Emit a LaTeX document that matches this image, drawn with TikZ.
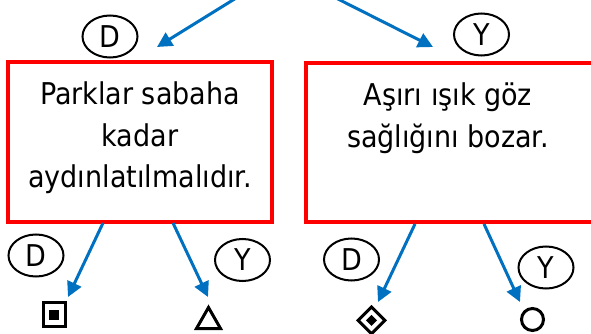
\documentclass[tikz,border=0pt]{standalone}
\usepackage{fontspec}
\setmainfont{DejaVu Sans Condensed}
\usetikzlibrary{arrows.meta,shapes.geometric}
\definecolor{arrowblue}{RGB}{0,112,192}
\definecolor{boxred}{RGB}{255,0,0}
\tikzset{
  redbox/.style={draw=boxred, line width=4pt, rectangle, inner sep=0pt},
  boxtext/.style={anchor=north, inner sep=0pt, align=center, font=\fontsize{30}{41.5}\selectfont},
  oval/.style={inner sep=0pt, font=\fontsize{30}{36}\selectfont},
  ovalline/.style={draw=black, line width=2pt},
  bluearrow/.style={draw=arrowblue, line width=3pt, -{Triangle[length=15pt,width=15pt]}},
  sym/.style={draw=black, line width=3pt, line join=miter},
}
\begin{document}
\begin{tikzpicture}[x=1pt,y=-1pt]
\useasboundingbox (0,0) rectangle (591,334);
% boxes
\node[redbox, minimum width=264pt, minimum height=159.5pt] (boxL) at (140,141.75) {};
\node[redbox, minimum width=290pt, minimum height=159pt] (boxR) at (451,142.5) {};
\node[boxtext] (txtL) at (140,82) {Parklar sabaha\\kadar\\aydınlatılmalıdır.};
\node[boxtext] (txtR) at (448,83) {Aşırı ışık göz\\sağlığını bozar.};
% ovals
\node[oval] (topD) at (110,36.5) {D};
\node[oval] (topY) at (481.5,34.5) {Y};
\node[oval] (lD) at (36,255.5) {D};
\node[oval] (lY) at (242.5,260) {Y};
\node[oval] (rD) at (351.5,259.5) {D};
\node[oval] (rY) at (546,267.5) {Y};
\foreach \n in {topD,topY,lD,lY,rD,rY}
  \draw[ovalline] (\n.center) ellipse [x radius=27.5pt, y radius=21pt];
% arrow coordinates
\coordinate (tls) at (241,-5);
\coordinate (tle) at (157,47);
\coordinate (trs) at (330,-5);
\coordinate (tre) at (433,47);
\coordinate (a1s) at (103,223);
\coordinate (a1e) at (68,297);
\coordinate (a2s) at (173,223);
\coordinate (a2e) at (208,297);
\coordinate (a3s) at (415,224);
\coordinate (a3e) at (378,302);
\coordinate (a4s) at (484,224);
\coordinate (a4e) at (520,302);
\draw[bluearrow] (tls) -- (tle);
\draw[bluearrow] (trs) -- (tre);
\draw[bluearrow] (a1s) -- (a1e);
\draw[bluearrow] (a2s) -- (a2e);
\draw[bluearrow] (a3s) -- (a3e);
\draw[bluearrow] (a4s) -- (a4e);
% symbols
\node[sym, rectangle, minimum width=22pt, minimum height=23.5pt, inner sep=0pt] (sq) at (54,314.7) {};
\fill (49,309.7) rectangle (59,319.7);
\draw[sym] (196.5,328.5) -- (208.5,307.5) -- (220.5,328.5) -- cycle;
\draw[sym] (371.5,306.9) -- (384.9,320.3) -- (371.5,333.7) -- (358.1,320.3) -- cycle;
\fill (371.5,314.8) -- (377,320.3) -- (371.5,325.8) -- (366,320.3) -- cycle;
\draw[sym] (532.5,319.5) circle (11);
\end{tikzpicture}
\end{document}
